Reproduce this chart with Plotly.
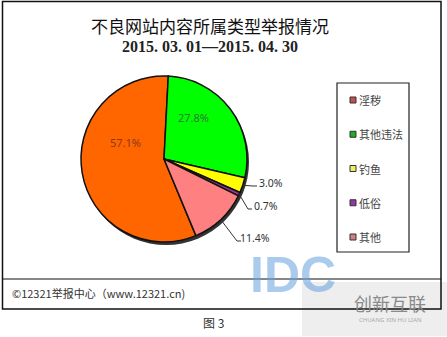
import math
import plotly.graph_objects as go

# ---- data ----
categories = ["淫秽", "其他违法", "钓鱼", "低俗", "其他"]
shares = [57.1, 27.8, 3.0, 0.7, 11.4]
slice_colors = ["#FF6600", "#00FF00", "#FFFF00", "#993399", "#FF8080"]
legend_colors = ["#C0504D", "#22AA22", "#EEEE66", "#9933AA", "#D08080"]
title_line1 = "不良网站内容所属类型举报情况"
title_line2 = "2015. 03. 01—2015. 04. 30"
footer = "©12321举报中心（www.12321.cn)"
caption = "图 3"

# ---- layout helpers ----
W, H = 447, 337
def px(x):
    return x / W
def py(y):
    return 1 - y / H

cx, cy, r = 164, 159, 83
rotation = 157.4
# label placement (pixel centres) and whether a leader line is drawn
label_xy = [(125, 142), (193, 117), (271, 183), (266, 206), (255, 238)]
label_colors = ["#8B3A1A", "#2E7D2E", "#333333", "#333333", "#333333"]
leader = [False, False, True, True, True]

fig = go.Figure()
fig.add_trace(go.Pie(
    labels=categories,
    values=shares,
    sort=False,
    direction="clockwise",
    rotation=rotation,
    marker=dict(colors=slice_colors, line=dict(color="#111111", width=1.5)),
    textinfo="none",
    domain=dict(x=[px(cx - r), px(cx + r)], y=[py(cy + r), py(cy - r)]),
    showlegend=False,
    hoverinfo="label+percent",
))

shapes = []
# outer frame
shapes.append(dict(type="rect", xref="paper", yref="paper", x0=px(2.5), x1=px(441), y0=py(309), y1=py(1.5),
                   line=dict(color="#111111", width=1.5), fillcolor="rgba(0,0,0,0)"))
# separator line
shapes.append(dict(type="line", xref="paper", yref="paper", x0=px(2.5), x1=px(441), y0=py(279), y1=py(279),
                   line=dict(color="#111111", width=1.2)))
# pie shadow
shapes.append(dict(type="circle", xref="paper", yref="paper", layer="below",
                   x0=px(cx - r + 2), x1=px(cx + r + 2), y0=py(cy + r + 3), y1=py(cy - r + 3),
                   fillcolor="#333333", line=dict(width=0)))
# watermark box
shapes.append(dict(type="rect", xref="paper", yref="paper", layer="below", x0=px(302), x1=px(447), y0=py(336), y1=py(282),
                   fillcolor="#EEEEEE", line=dict(width=0)))
# legend box
lx0, lx1, ly0, ly1 = 337, 409, 83, 252
shapes.append(dict(type="rect", xref="paper", yref="paper", x0=px(lx0), x1=px(lx1), y0=py(ly1), y1=py(ly0),
                   line=dict(color="#222222", width=1.2), fillcolor="white", layer="below"))

annotations = []
step = 34.25
for i, (name, col) in enumerate(zip(categories, legend_colors)):
    yy = 100 + step * i
    shapes.append(dict(type="rect", xref="paper", yref="paper", x0=px(350), x1=px(356), y0=py(yy + 3), y1=py(yy - 3),
                       fillcolor=col, line=dict(color="#333333", width=1)))
    annotations.append(dict(x=px(357), y=py(yy), xref="paper", yref="paper", text=name, showarrow=False,
                            xanchor="left", yanchor="middle",
                            font=dict(family="Noto Sans CJK SC", size=11, color="#444444")))

# data labels with leader lines computed from the slice angles
total = sum(shares)
cum = 0.0
for v, (lx, ly), lc, ld in zip(shares, label_xy, label_colors, leader):
    mid = math.radians(rotation + 360 * (cum + v / 2) / total)
    cum += v
    txt = f"{v / total * 100:.1f}%"
    size = 11 if not ld else 10.5
    annotations.append(dict(x=px(lx), y=py(ly), xref="paper", yref="paper", text=txt, showarrow=False,
                            xanchor="center", yanchor="middle",
                            font=dict(family="Noto Sans", size=size, color=lc)))
    if ld:
        ex, ey = cx + r * math.sin(mid), cy - r * math.cos(mid)
        left = lx - 13
        path = (f"M {px(ex)} {py(ey)} L {px(left - 5)} {py(ly + 3)} L {px(left - 1)} {py(ly + 3)}")
        shapes.append(dict(type="path", xref="paper", yref="paper", path=path,
                           line=dict(color="#333333", width=1)))

annotations += [
    dict(x=px(210), y=py(25), xref="paper", yref="paper", text=title_line1, showarrow=False,
         xanchor="center", yanchor="middle", font=dict(family="Noto Sans CJK SC", size=17, color="#111111")),
    dict(x=px(210), y=py(46), xref="paper", yref="paper", text="<b>" + title_line2 + "</b>", showarrow=False,
         xanchor="center", yanchor="middle", font=dict(family="Liberation Serif", size=16, color="#222222")),
    dict(x=px(10), y=py(293), xref="paper", yref="paper", text=footer, showarrow=False,
         xanchor="left", yanchor="middle", font=dict(family="Noto Sans CJK SC", size=11, color="#333333")),
    dict(x=px(213), y=py(322), xref="paper", yref="paper", text=caption, showarrow=False,
         xanchor="center", yanchor="middle", font=dict(family="Noto Sans CJK SC", size=12, color="#333333")),
    # watermark
    dict(x=px(293), y=py(275), xref="paper", yref="paper", text="<b>IDC</b>", showarrow=False,
         xanchor="center", yanchor="middle", font=dict(family="Liberation Sans", size=50, color="rgba(100,160,220,0.55)")),
    dict(x=px(390), y=py(303), xref="paper", yref="paper", text="创新互联", showarrow=False,
         xanchor="center", yanchor="middle", font=dict(family="Noto Sans CJK SC", size=18, color="#8A8A8A")),
    dict(x=px(390), y=py(320), xref="paper", yref="paper", text="CHUANG XIN HU LIAN", showarrow=False,
         xanchor="center", yanchor="middle", font=dict(family="Noto Sans", size=6, color="#AAAAAA")),
]

fig.update_layout(
    width=W, height=H,
    margin=dict(l=0, r=0, t=0, b=0),
    paper_bgcolor="white",
    plot_bgcolor="white",
    shapes=shapes,
    annotations=annotations,
)
fig.write_html("out.html")
